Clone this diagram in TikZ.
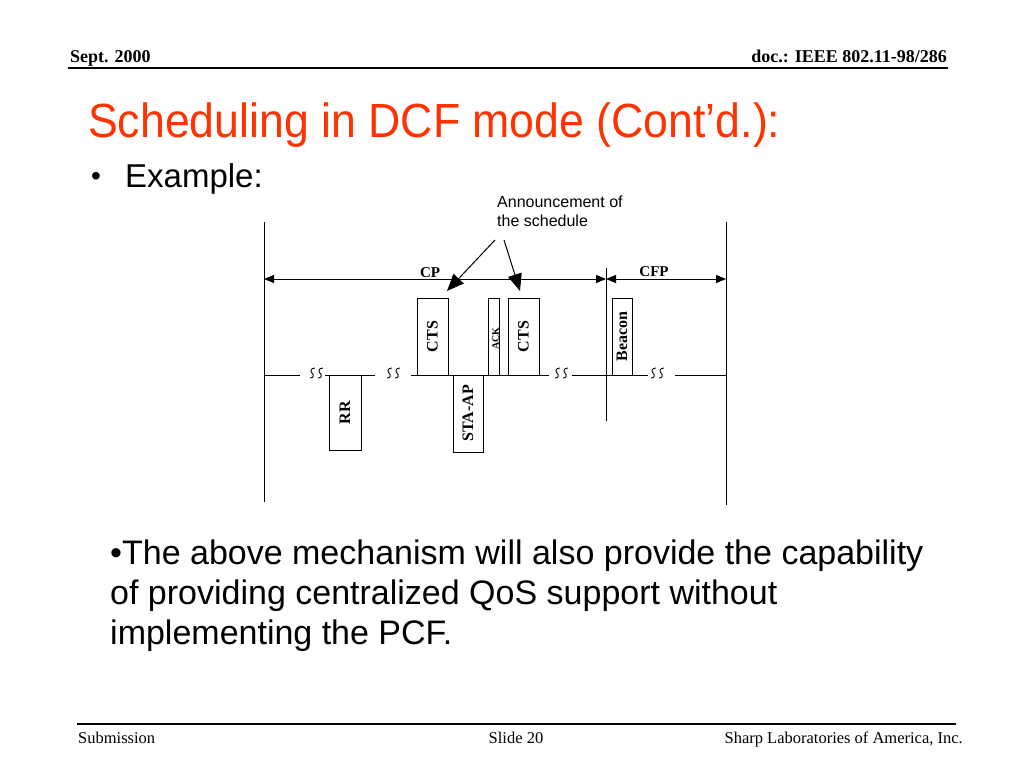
\documentclass[tikz,border=0pt]{standalone}
\usepackage{fontspec}
\setmainfont{Liberation Serif}
\newfontfamily\slidesans{Liberation Sans}
\usetikzlibrary{arrows.meta}
\definecolor{titlered}{RGB}{255,51,0}
\begin{document}
\begin{tikzpicture}[x=1pt,y=-1pt,
  pkt/.style={draw, line width=1pt, inner sep=0pt, fill=white},
  lbl/.style={font=\bfseries\fontsize{16}{16}\selectfont, inner sep=0pt, rotate=90},
  wire/.style={line width=1pt},
  span/.style={line width=1pt, {Triangle[length=10pt,width=8pt]}-{Triangle[length=10pt,width=8pt]}},
  annarrow/.style={line width=1pt, -{Triangle[length=17pt,width=14pt,fill=black]}},
  txt/.style={inner sep=0pt, anchor=base west},
  glyph/.style={line width=0.9pt},
  brk/.pic={\draw[glyph] (-1,-7) .. controls (-5,-7) and (-6,-4) .. (-4,-2) .. controls (-2,0) and (-2,3) .. (-6,3);
            \draw[glyph] (7,-7) .. controls (3,-7) and (2,-4) .. (4,-2) .. controls (6,0) and (6,3) .. (2,3);}
]
\useasboundingbox (0,0) rectangle (1024,768);
% header
\node[txt, font=\bfseries\fontsize{18}{18}\selectfont] (hl) at (70,63) {Sept. 2000};
\node[inner sep=0pt, anchor=base east, font=\bfseries\fontsize{18}{18}\selectfont] (hr) at (947,63) {doc.: IEEE 802.11-98/286};
\coordinate (h1) at (68,68); \coordinate (h2) at (948,68);
\draw[line width=1.6pt] (h1) -- (h2);
% title
\node[txt, text=titlered, font=\slidesans\fontsize{48}{48}\selectfont] (title) at (88,137) {\scalebox{0.93}[1]{Scheduling in DCF mode (Cont’d.):}};
\node[txt, font=\slidesans\fontsize{28}{28}\selectfont] (b1) at (91,185) {•};
\node[txt, font=\slidesans\fontsize{33}{33}\selectfont] (ex) at (125,187) {Example:};
% diagram verticals
\coordinate (l1) at (264,222); \coordinate (l2) at (264,502);
\coordinate (r1) at (726,222); \coordinate (r2) at (726,505);
\coordinate (m1) at (606,268); \coordinate (m2) at (606,421);
\draw[wire] (l1) -- (l2);
\draw[wire] (r1) -- (r2);
\draw[wire] (m1) -- (m2);
% spans
\coordinate (sa) at (264,279); \coordinate (sb) at (606,279); \coordinate (sc) at (726,279);
\draw[span] (sa) -- (sb);
\draw[span] (sb) -- (sc);
\node[font=\bfseries\fontsize{15}{15}\selectfont, inner sep=0pt, anchor=base] (cp) at (430,277) {CP};
\node[font=\bfseries\fontsize{15}{15}\selectfont, inner sep=0pt, anchor=base] (cfp) at (654,276) {CFP};
% announcement
\node[inner sep=0pt, anchor=north west, font=\slidesans\fontsize{16}{19}\selectfont, align=left] (ann) at (497,196) {Announcement of\\the schedule};
\coordinate (a1) at (495,240); \coordinate (a1e) at (447,291);
\coordinate (a2) at (504,240); \coordinate (a2e) at (520,291);
\draw[annarrow] (a1) -- (a1e);
\draw[annarrow] (a2) -- (a2e);
% baseline segments
\coordinate (w0) at (264,375); \coordinate (w1) at (300,375);
\coordinate (w2) at (325,375); \coordinate (w3) at (375,375);
\coordinate (w4) at (411,375); \coordinate (w5) at (549,375);
\coordinate (w6) at (572,375); \coordinate (w7) at (648,375);
\coordinate (w8) at (675,375); \coordinate (w9) at (726,375);
\draw[wire] (w0) -- (w1);
\draw[wire] (w2) -- (w3);
\draw[wire] (w4) -- (w5);
\draw[wire] (w6) -- (w7);
\draw[wire] (w8) -- (w9);
\pic at (316,375) {brk};
\pic at (393,375) {brk};
\pic at (561,375) {brk};
\pic at (657,375) {brk};
% packets
\node[pkt, minimum width=32, minimum height=75] (rr) at (345,412.5) {};
\node[lbl] at (rr.center) {RR};
\node[pkt, minimum width=31, minimum height=77] (cts1) at (432.5,336.5) {};
\node[lbl] at (cts1.center) {CTS};
\node[pkt, minimum width=30, minimum height=77] (sta) at (468,413.5) {};
\node[lbl] at (sta.center) {STA-AP};
\node[pkt, minimum width=11, minimum height=77] (ack) at (493.5,336.5) {};
\node[lbl, font=\bfseries\fontsize{10}{10}\selectfont] at ([xshift=2pt,yshift=-2pt]ack.center) {ACK};
\node[pkt, minimum width=31, minimum height=77] (cts2) at (523.5,336.5) {};
\node[lbl] at (cts2.center) {CTS};
\node[pkt, minimum width=20, minimum height=77] (bcn) at (622,336.5) {};
\node[lbl] at (bcn.center) {Beacon};
% bottom text
\node[inner sep=0pt, anchor=north west, font=\slidesans\fontsize{34}{40}\selectfont, align=left] (body) at (110,540) {•The above mechanism will also provide the capability\\of providing centralized QoS support without\\implementing the PCF.};
% footer
\coordinate (f1) at (77,724); \coordinate (f2) at (956,724);
\draw[line width=1.6pt] (f1) -- (f2);
\node[txt, font=\fontsize{16.5}{16.5}\selectfont] (fs) at (78,743) {Submission};
\node[inner sep=0pt, anchor=base, font=\fontsize{16.5}{16.5}\selectfont] (fm) at (516,743) {Slide 20};
\node[inner sep=0pt, anchor=base east, font=\fontsize{16.5}{16.5}\selectfont] (fr) at (963,743) {Sharp Laboratories of America, Inc.};
\end{tikzpicture}
\end{document}
